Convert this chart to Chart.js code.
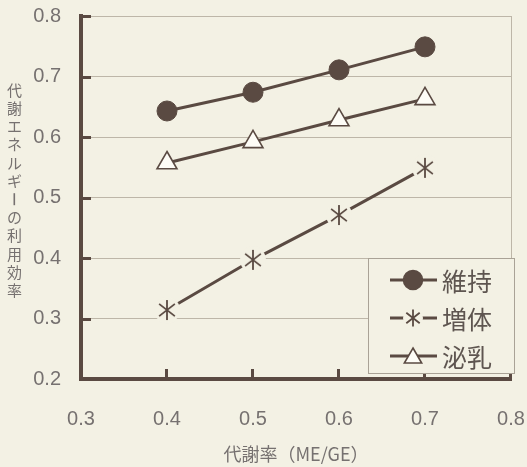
<!DOCTYPE html>
<html>
<head>
<meta charset="utf-8">
<script src="https://cdn.jsdelivr.net/npm/chart.js@4/dist/chart.umd.min.js"></script>
<style>
  html, body { margin: 0; padding: 0; background: #f3f1e4; }
  canvas { display: block; }
</style>
</head>
<body>
<canvas id="c" width="527" height="467"></canvas>
<script>
// ---- data ----
const xValues = [0.4, 0.5, 0.6, 0.7];
const maintenance = [0.643, 0.674, 0.711, 0.749];   // 維持
const growth      = [0.314, 0.397, 0.471, 0.549];   // 増体
const lactation   = [0.557, 0.592, 0.628, 0.663];   // 泌乳
const seriesNames = ['維持', '増体', '泌乳'];
const xTicks = [0.3, 0.4, 0.5, 0.6, 0.7, 0.8];
const yTicks = [0.2, 0.3, 0.4, 0.5, 0.6, 0.7, 0.8];
const xTitle = '代謝率（ME/GE）';
const yTitle = '代謝エネルギーの利用効率';

// ---- style ----
const BG = '#f3f1e4';
const INK = '#5a4a42';
const GRID = '#bdb6a8';
const TEXT = '#767170';
const LATIN = '"Liberation Sans", Arial, sans-serif';
const CJK = '"Noto Sans CJK JP", "Noto Sans", sans-serif';

function makeStar(discR, armR) {
  const s = 2 * discR + 2;
  const c = document.createElement('canvas');
  c.width = s; c.height = s;
  const g = c.getContext('2d');
  const m = s / 2;
  g.fillStyle = BG;
  g.beginPath(); g.arc(m, m, discR, 0, Math.PI * 2); g.fill();
  g.strokeStyle = INK; g.lineWidth = 1.8; g.lineCap = 'butt';
  const angs = [0, 52, -52];
  g.beginPath();
  angs.forEach(a => {
    const r = a * Math.PI / 180;
    const dx = Math.sin(r) * armR, dy = Math.cos(r) * armR;
    g.moveTo(m - dx, m - dy); g.lineTo(m + dx, m + dy);
  });
  g.stroke();
  return c;
}
const starImg = makeStar(13, 10);
const starLegend = makeStar(10, 8.5);

const pts = arr => xValues.map((x, i) => ({ x, y: arr[i] }));
const near = (a, b) => Math.abs(a - b) < 1e-6;

const yTitlePlugin = {
  id: 'yTitle',
  afterDraw(chart) {
    const ctx = chart.ctx;
    ctx.save();
    ctx.fillStyle = TEXT;
    ctx.font = '15px ' + CJK;
    ctx.textAlign = 'center';
    ctx.textBaseline = 'middle';
    const chars = Array.from(yTitle);
    const step = 18.2;
    chars.forEach((ch, i) => {
      const y = 90 + i * step;
      if (ch === 'ー') {
        ctx.fillRect(13.5, y - 6, 1.6, 12);
      } else {
        ctx.fillText(ch, 14.5, y);
      }
    });
    ctx.restore();
  }
};

const innerTicksPlugin = {
  id: 'innerTicks',
  beforeDatasetsDraw(chart) {
    const { ctx, scales: { x, y }, chartArea: ca } = chart;
    ctx.save();
    ctx.strokeStyle = INK;
    ctx.lineWidth = 3;
    ctx.beginPath();
    yTicks.forEach(v => {
      if (near(v, 0.2)) return;
      const py = Math.round(y.getPixelForValue(v)) + 0.5;
      ctx.moveTo(ca.left, py); ctx.lineTo(ca.left + 10, py);
    });
    xTicks.forEach(v => {
      if (near(v, 0.3)) return;
      const px = Math.round(x.getPixelForValue(v)) - 0.5;
      ctx.moveTo(px, ca.bottom); ctx.lineTo(px, ca.bottom - 10);
    });
    ctx.stroke();
    ctx.restore();
  }
};

const legendPlugin = {
  id: 'customLegend',
  afterDraw(chart) {
    const ctx = chart.ctx;
    ctx.save();
    const bx = 368, by = 258, bw = 146, bh = 115;
    ctx.fillStyle = BG;
    ctx.fillRect(bx, by, bw, bh);
    ctx.strokeStyle = '#a9a296';
    ctx.lineWidth = 1;
    ctx.strokeRect(bx + 0.5, by + 0.5, bw, bh);
    const rows = [280, 318, 356];
    const x0 = 390, x1 = 437, mx = 413;
    rows.forEach((ry, i) => {
      ctx.strokeStyle = INK;
      ctx.lineWidth = 3;
      ctx.beginPath(); ctx.moveTo(x0, ry); ctx.lineTo(x1, ry); ctx.stroke();
      const ds = chart.data.datasets[i];
      if (i === 1) {
        ctx.drawImage(starLegend, mx - starLegend.width / 2, ry - starLegend.height / 2);
      } else {
        ctx.fillStyle = ds.pointBackgroundColor;
        ctx.strokeStyle = ds.pointBorderColor;
        ctx.lineWidth = 1.6;
        ctx.beginPath();
        if (i === 0) {
          ctx.arc(mx, ry, 9.5, 0, Math.PI * 2);
        } else {
          const r = 10;
          for (let k = 0; k < 3; k++) {
            const a = k * 2 * Math.PI / 3;
            const px = mx + Math.sin(a) * r, py = ry + 2 - Math.cos(a) * r;
            k === 0 ? ctx.moveTo(px, py) : ctx.lineTo(px, py);
          }
          ctx.closePath();
        }
        ctx.fill(); ctx.stroke();
      }
      ctx.fillStyle = '#5e5550';
      ctx.font = '25px ' + CJK;
      ctx.textAlign = 'left';
      ctx.textBaseline = 'middle';
      ctx.fillText(seriesNames[i], 442, ry + 1);
    });
    ctx.restore();
  }
};

new Chart(document.getElementById('c'), {
  type: 'line',
  data: {
    datasets: [
      {
        label: seriesNames[0], data: pts(maintenance),
        borderColor: INK, borderWidth: 3,
        pointStyle: 'circle', pointRadius: 10,
        pointBackgroundColor: INK, pointBorderColor: INK, pointBorderWidth: 1
      },
      {
        label: seriesNames[1], data: pts(growth),
        borderColor: INK, borderWidth: 3,
        pointStyle: starImg, pointRadius: 10,
        pointBackgroundColor: BG, pointBorderColor: INK
      },
      {
        label: seriesNames[2], data: pts(lactation),
        borderColor: INK, borderWidth: 3,
        pointStyle: 'triangle', pointRadius: 11.5,
        pointBackgroundColor: '#fdfcf6', pointBorderColor: INK, pointBorderWidth: 1.6
      }
    ]
  },
  options: {
    responsive: false,
    animation: false,
    devicePixelRatio: 1,
    layout: { padding: { top: 16, right: 16, left: 0, bottom: 0 } },
    plugins: { legend: { display: false }, tooltip: { enabled: false } },
    scales: {
      x: {
        type: 'linear', min: 0.3, max: 0.8,
        afterBuildTicks: s => { s.ticks = xTicks.map(v => ({ value: v })); },
        afterFit: s => { s.height = 88; s.paddingLeft = 0; s.paddingRight = 0; s.paddingTop = 0; s.paddingBottom = 0; },
        ticks: {
          color: TEXT, padding: 28,
          font: { family: LATIN, size: 20 },
          callback: v => Number(v).toFixed(1)
        },
        grid: {
          drawTicks: false,
          color: c => (c.tick && near(c.tick.value, 0.8)) ? GRID : 'rgba(0,0,0,0)',
          lineWidth: 1
        },
        border: { color: INK, width: 4 },
        title: {
          display: true, text: xTitle, color: TEXT,
          font: { family: CJK, size: 18 },
          padding: { top: 0, bottom: 2 }
        }
      },
      y: {
        type: 'linear', min: 0.2, max: 0.8,
        afterBuildTicks: s => { s.ticks = yTicks.map(v => ({ value: v })); },
        afterFit: s => { s.width = 81; s.paddingTop = 0; s.paddingBottom = 0; s.paddingLeft = 0; s.paddingRight = 0; },
        ticks: {
          color: TEXT, padding: 20,
          font: { family: LATIN, size: 20 },
          callback: v => Number(v).toFixed(1)
        },
        grid: { drawTicks: false, color: GRID, lineWidth: 1 },
        border: { color: INK, width: 4 }
      }
    }
  },
  plugins: [innerTicksPlugin, legendPlugin, yTitlePlugin]
});
</script>
</body>
</html>
